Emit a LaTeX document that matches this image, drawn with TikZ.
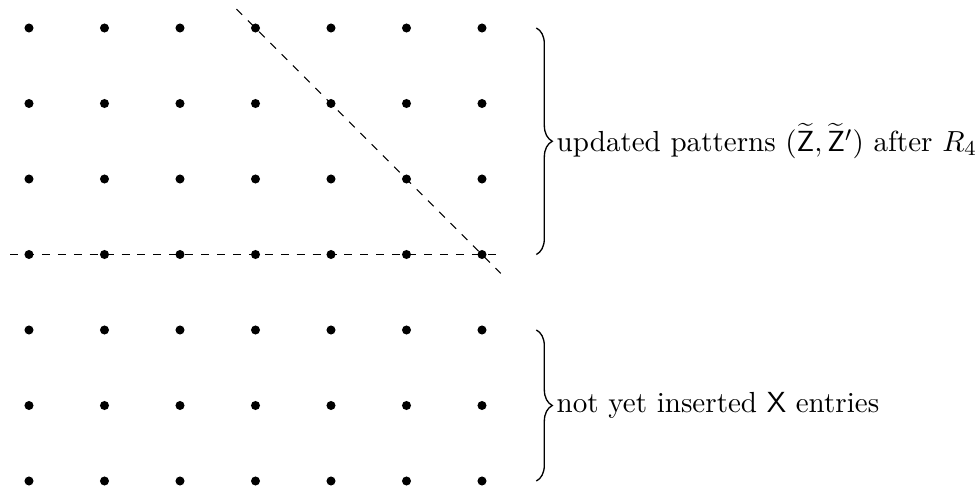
\documentclass[tikz,border=0pt]{standalone}
\usetikzlibrary{decorations.pathreplacing}
\tikzset{
  gdot/.style={circle,fill=black,inner sep=0pt,minimum size=3.4pt},
  guide/.style={dashed,line width=0.4pt},
  bracestyle/.style={decorate,decoration={brace,amplitude=6pt},line width=0.5pt},
  lbl/.style={anchor=west,inner sep=1.5pt,font=\fontsize{10.95}{13.6}\selectfont}
}
\begin{document}
\begin{tikzpicture}
\useasboundingbox (-0.384,-0.086) rectangle (12.596,6.371);
\foreach \i in {0,...,6}{
  \foreach \j in {0,...,6}{
    \node[gdot] (d-\i-\j) at (\i,\j) {};
  }
}
\coordinate (hl) at (-0.25,3);
\coordinate (hr) at (6.2,3);
\coordinate (dl) at (2.75,6.25);
\coordinate (dr) at (6.25,2.75);
\draw[guide] (hl) -- (hr);
\draw[guide] (dl) -- (dr);
\coordinate (b1t) at (6.72,6);
\coordinate (b1b) at (6.72,3);
\coordinate (b2t) at (6.72,2);
\coordinate (b2b) at (6.72,0);
\draw[bracestyle] (b1t) -- (b1b);
\draw[bracestyle] (b2t) -- (b2b);
\node[lbl] (l1) at (6.93,4.5) {updated patterns $(\widetilde{\mathsf{Z}},\widetilde{\mathsf{Z}}')$ after $R_4$};
\node[lbl] (l2) at (6.93,1) {not yet inserted $\mathsf{X}$ entries};
\end{tikzpicture}
\end{document}
